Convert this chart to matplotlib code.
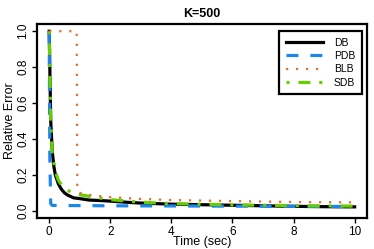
import numpy as np
import matplotlib
matplotlib.use("Agg")
import matplotlib.pyplot as plt

# ---- dados ----
t_db = [0, 0.02, 0.05, 0.1, 0.15, 0.2, 0.3, 0.4, 0.5, 0.6, 0.8, 1.0, 1.3, 1.7,
        2.0, 2.5, 3.0, 3.5, 4.0, 5, 6, 7, 8, 9, 10]
e_db = [1.0, 0.8, 0.5, 0.33, 0.25, 0.2, 0.15, 0.12, 0.1, 0.088, 0.072, 0.068,
        0.06, 0.057, 0.054, 0.048, 0.043, 0.04, 0.037, 0.034, 0.031, 0.028,
        0.025, 0.023, 0.022]

t_pdb = [0, 0.02, 0.05, 0.1, 1, 2, 4, 6, 8, 10]
e_pdb = [1.0, 0.3, 0.04, 0.03, 0.029, 0.028, 0.027, 0.026, 0.025, 0.024]

t_blb = [0, 0.9, 0.92, 1.0, 1.2, 1.5, 2, 3, 4, 6, 8, 10]
e_blb = [1.0, 1.0, 0.11, 0.1, 0.092, 0.084, 0.076, 0.066, 0.06, 0.054,
         0.049, 0.047]

t_sdb = [0, 0.03, 0.05, 0.1, 0.2, 0.3, 0.4, 0.5, 0.7, 1.0, 1.5, 2, 3, 4, 6, 8, 10]
e_sdb = [1.0, 0.7, 0.5, 0.32, 0.22, 0.17, 0.145, 0.125, 0.105, 0.09, 0.075,
         0.062, 0.048, 0.04, 0.033, 0.029, 0.026]

x_ticks = [0, 2, 4, 6, 8, 10]
y_ticks = [0.0, 0.2, 0.4, 0.6, 0.8, 1.0]

plt.rcParams["font.family"] = ["Liberation Sans", "DejaVu Sans"]
plt.rcParams["lines.scale_dashes"] = False

fig = plt.figure(figsize=(3.74, 2.49), dpi=100)
ax = fig.add_axes([0.0989, 0.1245, 0.882, 0.779])

ax.plot(t_db, e_db, color="black", lw=2.3, solid_joinstyle="round",
        label="DB", zorder=3)
ax.plot(t_pdb, e_pdb, color="#1C86EE", lw=2.3, dashes=(8.6, 8.6),
        label="PDB", zorder=4)
ax.plot(t_blb, e_blb, color="#E0702A", lw=1.6, dashes=(1.6, 5.6),
        label="BLB", zorder=5)
ax.plot(t_sdb, e_sdb, color="#66CD00", lw=2.3, dashes=(2.2, 6.4, 8.6, 6.4),
        label="SDB", zorder=4)

ax.set_xlim(-0.4, 10.4)
ax.set_ylim(-0.04, 1.04)
ax.set_xticks(x_ticks)
ax.set_xticklabels([str(v) for v in x_ticks])
ax.set_yticks(y_ticks)
ax.set_yticklabels([f"{v:.1f}" for v in y_ticks], rotation=90, va="center")
ax.tick_params(direction="out", length=3.5, width=1.0, labelsize=8.5, pad=2)
for s in ax.spines.values():
    s.set_linewidth(1.6)

ax.set_xlabel("Time (sec)", fontsize=9, labelpad=-1)
ax.set_ylabel("Relative Error", fontsize=9, labelpad=1)
ax.set_title("K=500", fontsize=9, fontweight="bold", pad=5)

leg = ax.legend(loc="upper right", bbox_to_anchor=(0.985, 0.965),
                borderaxespad=0, fontsize=7.5, handlelength=3.6,
                labelspacing=0.32, fancybox=False, framealpha=1,
                edgecolor="black", borderpad=0.65, handletextpad=1.0)
leg.get_frame().set_linewidth(1.6)

fig.savefig("out.png", dpi=100)
